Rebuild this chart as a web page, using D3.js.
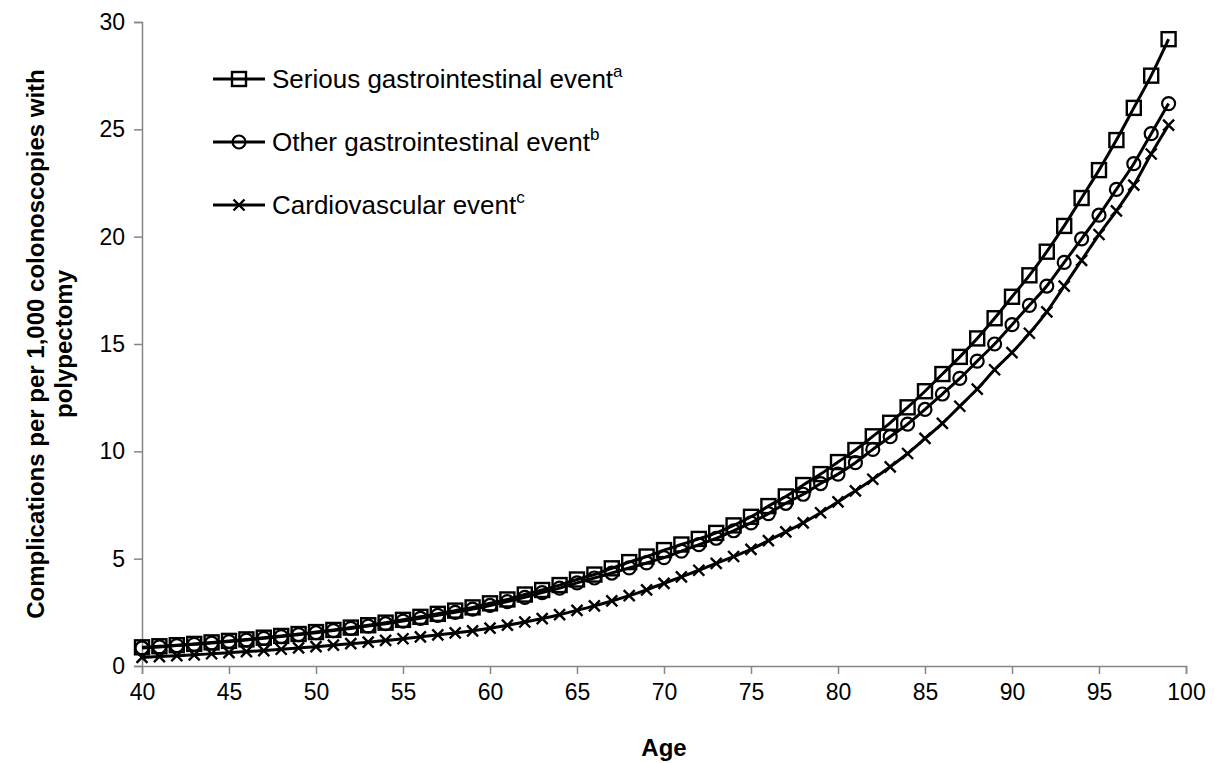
<!DOCTYPE html>
<html>
<head>
<meta charset="utf-8">
<script src="https://cdn.jsdelivr.net/npm/d3@7"></script>
<style>
  html, body { margin: 0; padding: 0; background: #fff; }
  svg { display: block; font-family: "Liberation Sans", Arial, sans-serif; }
</style>
</head>
<body>
<svg id="chart" width="1215" height="763"></svg>
<script>
// Age in years (one marker per year)
const ages = [40,41,42,43,44,45,46,47,48,49,
              50,51,52,53,54,55,56,57,58,59,
              60,61,62,63,64,65,66,67,68,69,
              70,71,72,73,74,75,76,77,78,79,
              80,81,82,83,84,85,86,87,88,89,
              90,91,92,93,94,95,96,97,98,99];

// Complications per 1,000 colonoscopies with polypectomy
const serious = [0.87,0.92,0.97,1.03,1.10,1.17,1.24,1.32,1.40,1.49,
                 1.58,1.68,1.79,1.90,2.02,2.15,2.29,2.43,2.58,2.73,
                 2.92,3.10,3.33,3.54,3.77,4.03,4.26,4.55,4.84,5.10,
                 5.40,5.66,5.92,6.20,6.55,6.95,7.45,7.90,8.43,8.94,
                 9.50,10.06,10.70,11.33,12.05,12.80,13.60,14.40,15.26,16.20,
                 17.20,18.20,19.30,20.50,21.80,23.10,24.50,26.00,27.50,29.20];

const otherGI = [0.84,0.89,0.95,1.01,1.07,1.14,1.21,1.29,1.37,1.46,
                 1.55,1.65,1.75,1.86,1.97,2.09,2.22,2.36,2.50,2.65,
                 2.82,3.00,3.20,3.42,3.63,3.87,4.10,4.33,4.57,4.80,
                 5.05,5.35,5.65,5.95,6.30,6.67,7.10,7.58,8.00,8.50,
                 8.94,9.47,10.09,10.68,11.27,11.95,12.67,13.40,14.20,15.00,
                 15.90,16.80,17.70,18.80,19.90,21.00,22.20,23.40,24.80,26.20];

const cardio = [0.40,0.44,0.48,0.52,0.57,0.62,0.67,0.72,0.78,0.84,
                0.90,0.97,1.04,1.11,1.19,1.27,1.36,1.45,1.54,1.64,
                1.76,1.90,2.05,2.21,2.39,2.59,2.80,3.03,3.28,3.55,
                3.85,4.15,4.46,4.78,5.10,5.43,5.84,6.25,6.67,7.14,
                7.65,8.16,8.70,9.28,9.90,10.60,11.30,12.10,12.90,13.80,
                14.60,15.50,16.50,17.70,18.90,20.10,21.20,22.40,23.85,25.20];

const seriesNames = ["Serious gastrointestinal event", "Other gastrointestinal event", "Cardiovascular event"];
const seriesSup = ["a", "b", "c"];
const seriesMarkers = ["square", "circle", "cross"];

const xTicks = [40,45,50,55,60,65,70,75,80,85,90,95,100];
const yTicks = [0,5,10,15,20,25,30];

const svg = d3.select("#chart");
const margin = {left: 142, right: 29, top: 22, bottom: 97};
const W = 1215, H = 763;

const x = d3.scaleLinear().domain([40, 100]).range([margin.left, W - margin.right]);
const y = d3.scaleLinear().domain([0, 30]).range([H - margin.bottom, margin.top]);

const axisColor = "#868686";

// Axes
const gx = svg.append("g")
  .attr("transform", `translate(0,${y(0)})`)
  .call(d3.axisBottom(x).tickValues(xTicks).tickSize(8).tickPadding(10).tickFormat(d3.format("d")));
const gy = svg.append("g")
  .attr("transform", `translate(${x(40)},0)`)
  .call(d3.axisLeft(y).tickValues(yTicks).tickSize(8).tickPadding(9).tickFormat(d3.format("d")));

[gx, gy].forEach(g => {
  g.select(".domain").attr("stroke", axisColor).attr("stroke-width", 1.5);
  g.selectAll(".tick line").attr("stroke", axisColor).attr("stroke-width", 1.5);
  g.selectAll(".tick text").attr("fill", "#000").style("font-size", "23px")
    .style("font-family", "'Liberation Sans', Arial, sans-serif");
});

// Axis titles
svg.append("text")
  .attr("x", (x(40) + x(100)) / 2).attr("y", 756)
  .attr("text-anchor", "middle")
  .style("font-size", "24px").style("font-weight", "bold")
  .text("Age");

const yTitle = svg.append("text")
  .attr("transform", `translate(44,${(y(0) + y(30)) / 2}) rotate(-90)`)
  .attr("text-anchor", "middle")
  .style("font-size", "24px").style("font-weight", "bold");
yTitle.append("tspan").attr("x", 0).attr("dy", 0).text("Complications per per 1,000 colonoscopies with");
yTitle.append("tspan").attr("x", 0).attr("dy", 28).text("polypectomy");

// Marker drawing
function drawMarker(g, type, cx, cy) {
  if (type === "square") {
    g.append("rect").attr("x", cx - 7).attr("y", cy - 7).attr("width", 14).attr("height", 14)
      .attr("fill", "none").attr("stroke", "#000").attr("stroke-width", 2.4);
  } else if (type === "circle") {
    g.append("circle").attr("cx", cx).attr("cy", cy).attr("r", 6.5)
      .attr("fill", "none").attr("stroke", "#000").attr("stroke-width", 2.2);
  } else {
    const s = 5.5;
    g.append("path")
      .attr("d", `M${cx - s},${cy - s}L${cx + s},${cy + s}M${cx - s},${cy + s}L${cx + s},${cy - s}`)
      .attr("stroke", "#000").attr("stroke-width", 2.4).attr("fill", "none");
  }
}

const allSeries = [serious, otherGI, cardio];
const line = d3.line().x(d => x(d[0])).y(d => y(d[1])).curve(d3.curveMonotoneX);

// Draw in reverse so the serious series sits on top
[2, 1, 0].forEach(i => {
  const pts = ages.map((a, j) => [a, allSeries[i][j]]);
  const g = svg.append("g").attr("class", "series-" + i);
  g.append("path").datum(pts).attr("d", line)
    .attr("fill", "none").attr("stroke", "#000").attr("stroke-width", 3);
  pts.forEach(p => drawMarker(g, seriesMarkers[i], x(p[0]), y(p[1])));
});

// Legend
const legendRows = [79, 142, 205];
seriesNames.forEach((name, i) => {
  const ly = legendRows[i];
  const g = svg.append("g").attr("class", "legend");
  g.append("line").attr("x1", 213).attr("x2", 265).attr("y1", ly).attr("y2", ly)
    .attr("stroke", "#000").attr("stroke-width", 3);
  drawMarker(g, seriesMarkers[i], 239, ly);
  const t = g.append("text").attr("x", 272).attr("y", ly + 9).style("font-size", "26px");
  t.append("tspan").text(name);
  t.append("tspan").attr("dy", -11).style("font-size", "17px").text(seriesSup[i]);
});
</script>
</body>
</html>
